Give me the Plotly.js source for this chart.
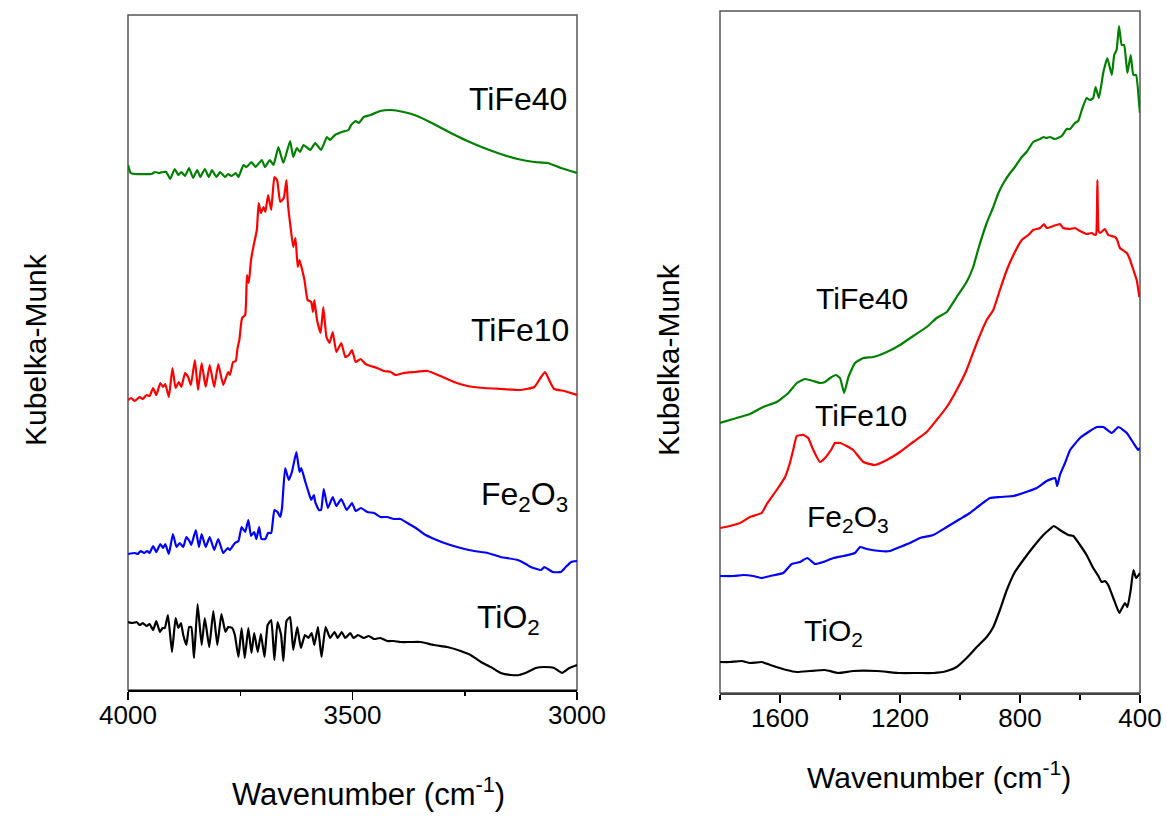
<!DOCTYPE html>
<html><head><meta charset="utf-8">
<script src="https://cdn.plot.ly/plotly-3.0.1.min.js"></script>
<style>html,body{margin:0;padding:0;background:#fff}</style>
</head><body><div id="chart" style="width:1167px;height:816px"></div>
<script>
// ---------- Left panel (4000-3000 cm-1) ----------
const L_TiFe40_wn = [4000,3994,3985,3948,3940,3931,3922,3915,3906,3896,3888,3881,3873,3864,3855,3846,3839,3829,3820,3813,3803,3795,3784,3777,3769,3760,3754,3743,3736,3725,3716,3702,3695,3684,3676,3665,3654,3639,3632,3624,3617,3609,3594,3583,3570,3557,3550,3539,3524,3509,3503,3493,3486,3475,3460,3438,3415,3386,3356,3319,3281,3244,3207,3170,3132,3095,3065,3036,3000];
const L_TiFe40 = [525,517,516,516,518,517,518,518,511,521,515,518,514,522,512,520,513,521,513,520,513,518,513,516,514,517,513,525,523,528,523,530,523,530,525,543,527,549,533,542,538,545,540,547,540,553,550,555,558,560,565,569,567,573,575,579,580,578,574,566,557,549,542,536,531,528,527,522,517];

const L_TiFe10_wn = [4000,3993,3985,3974,3967,3959,3952,3944,3937,3928,3922,3917,3909,3901,3894,3887,3881,3873,3866,3860,3851,3844,3836,3827,3818,3808,3799,3788,3777,3773,3766,3760,3756,3752,3746,3739,3735,3731,3726,3720,3713,3709,3704,3698,3694,3688,3681,3674,3668,3661,3653,3647,3644,3638,3632,3627,3622,3618,3612,3607,3600,3592,3588,3585,3579,3571,3565,3558,3551,3544,3536,3525,3516,3508,3501,3493,3482,3471,3460,3445,3430,3415,3404,3386,3363,3333,3304,3274,3244,3207,3170,3125,3095,3080,3071,3062,3051,3028,3000];
const L_TiFe10 = [290,292,289,293,291,295,294,302,295,307,303,306,293,322,302,308,303,317,313,305,330,300,327,303,325,303,326,305,318,315,328,329,342,350,372,375,415,407,430,445,460,487,477,483,478,495,480,513,510,488,492,510,487,463,443,452,423,430,420,410,390,388,378,390,370,357,383,353,347,358,338,347,333,335,340,328,331,326,324,322,319,318,315,317,318,319,314,308,304,302,301,300,303,313,318,310,301,299,295];

const L_Fe2O3_wn = [4000,3985,3978,3972,3964,3957,3952,3944,3937,3928,3922,3917,3909,3900,3892,3885,3877,3870,3862,3859,3849,3842,3836,3827,3818,3808,3799,3788,3778,3773,3762,3754,3747,3739,3732,3726,3719,3714,3708,3703,3694,3688,3681,3674,3667,3661,3657,3650,3642,3635,3625,3618,3614,3605,3598,3592,3586,3583,3575,3570,3564,3555,3544,3536,3525,3513,3501,3493,3481,3467,3452,3438,3423,3408,3393,3378,3359,3341,3318,3289,3259,3229,3199,3170,3132,3114,3103,3080,3073,3065,3054,3036,3025,3013,3000];
const L_Fe2O3 = [136,137,136,139,137,139,137,144,138,146,142,146,136,156,143,147,143,153,148,145,160,143,156,143,153,140,151,137,142,140,147,149,163,158,170,154,158,151,163,151,151,157,157,180,178,173,182,222,210,218,238,218,222,208,198,190,195,188,180,180,201,182,193,184,191,180,187,179,182,178,177,173,173,171,171,167,162,156,151,146,142,139,137,133,130,126,123,120,123,121,118,118,123,128,129];

const L_TiO2_wn = [4000,3989,3981,3974,3967,3959,3952,3944,3937,3929,3923,3918,3911,3902,3894,3888,3882,3877,3870,3864,3859,3853,3845,3836,3829,3819,3810,3801,3792,3783,3777,3768,3762,3754,3747,3740,3732,3725,3719,3711,3704,3696,3689,3681,3674,3667,3659,3654,3647,3639,3632,3623,3615,3606,3598,3591,3585,3577,3569,3560,3550,3540,3533,3524,3516,3505,3498,3488,3475,3464,3452,3438,3423,3408,3393,3371,3348,3319,3289,3259,3237,3214,3192,3170,3147,3129,3110,3092,3073,3051,3033,3017,3000];
const L_TiO2 = [68,67,68,65,67,64,66,60,69,58,62,62,75,38,72,62,67,55,45,63,63,32,86,45,72,43,79,45,76,58,63,62,55,33,62,32,62,37,57,38,56,33,65,70,30,68,55,29,69,73,40,63,42,55,52,57,45,63,33,63,52,58,52,58,52,57,52,55,52,54,51,52,49,49,48,48,48,45,43,39,35,28,23,17,15,15,18,22,23,22,17,22,25];

// ---------- Right panel (1800-400 cm-1) ----------
const R_TiFe40_wn = [1800,1756,1700,1656,1611,1572,1544,1517,1489,1467,1450,1433,1413,1400,1386,1372,1350,1322,1289,1244,1200,1156,1111,1078,1044,1011,978,956,939,911,889,872,853,833,817,794,778,756,733,722,711,700,683,661,644,633,617,606,594,578,567,556,548,537,522,509,494,486,478,470,461,453,442,431,422,413,402,400];
const R_TiFe40 = [270,274,279,286,291,300,310,314,312,310,311,315,318,315,300,316,330,335,336,341,348,357,366,375,381,396,411,426,444,470,486,500,511,520,526,536,541,551,554,556,555,556,554,557,564,564,570,572,583,595,593,595,606,595,621,635,618,638,643,667,648,648,620,638,618,618,586,580];

const R_TiFe10_wn = [1800,1767,1733,1700,1661,1644,1611,1583,1567,1556,1544,1522,1506,1489,1467,1450,1428,1417,1400,1378,1356,1322,1283,1244,1200,1156,1111,1078,1044,1011,978,944,911,889,867,844,817,794,772,756,733,720,711,689,667,656,633,617,600,578,561,550,546,542,538,533,517,506,483,476,467,444,433,422,411,402];
const R_TiFe10 = [165,167,170,176,180,189,203,216,230,243,257,258,255,243,231,235,244,250,250,247,243,231,228,233,241,251,261,273,286,303,323,350,373,383,403,423,441,453,458,463,465,469,465,467,469,465,464,465,462,459,460,458,459,513,462,460,464,458,456,453,445,440,433,423,413,396];

const R_Fe2O3_wn = [1800,1756,1722,1689,1661,1633,1589,1561,1533,1509,1483,1456,1422,1389,1350,1333,1311,1267,1233,1200,1167,1133,1089,1044,1000,967,933,900,867,822,789,744,711,683,676,667,650,633,600,572,544,522,494,472,444,422,406,400];
const R_Fe2O3 = [117,117,118,117,115,117,120,129,131,135,129,131,135,137,140,146,144,142,142,146,150,155,158,166,174,180,188,195,196,197,200,205,212,215,207,218,230,243,255,261,266,266,260,266,260,250,243,245];

const R_TiO2_wn = [1800,1767,1728,1700,1661,1622,1578,1544,1500,1450,1406,1356,1278,1200,1144,1089,1044,1011,978,944,911,889,867,844,817,789,756,722,700,687,667,639,622,600,578,556,539,528,517,506,489,469,458,450,442,431,422,413,400];
const R_TiO2 = [31,31,32,30,31,27,23,21,22,23,20,22,22,20,20,20,22,26,35,46,56,66,83,103,121,133,146,158,164,167,163,158,157,148,138,125,117,111,112,108,95,80,86,90,86,103,123,115,120];

const seriesNames = ['TiFe40','TiFe10','Fe2O3','TiO2'];
const seriesColors = ['#008000','#ff0000','#0000ff','#000000'];
const leftX = [L_TiFe40_wn, L_TiFe10_wn, L_Fe2O3_wn, L_TiO2_wn];
const leftY = [L_TiFe40, L_TiFe10, L_Fe2O3, L_TiO2];
const rightX = [R_TiFe40_wn, R_TiFe10_wn, R_Fe2O3_wn, R_TiO2_wn];
const rightY = [R_TiFe40, R_TiFe10, R_Fe2O3, R_TiO2];

const W = 1167, H = 816;
const px = x => x / W, py = y => 1 - y / H;

const traces = [];
seriesNames.forEach((n, i) => {
  traces.push({x: leftX[i], y: leftY[i], name: n, type: 'scatter', mode: 'lines',
    line: {color: seriesColors[i], width: 2.2, shape: 'spline', smoothing: 0.4}, xaxis: 'x', yaxis: 'y', showlegend: false});
  traces.push({x: rightX[i], y: rightY[i], name: n, type: 'scatter', mode: 'lines',
    line: {color: seriesColors[i], width: 2.2, shape: 'spline', smoothing: 0.4}, xaxis: 'x2', yaxis: 'y2', showlegend: false});
});

const FONT = 'Liberation Sans, Arial, sans-serif';

function ann(text, x, y, size, extra) {
  return Object.assign({text: text, xref: 'paper', yref: 'paper', x: px(x), y: py(y),
    xanchor: 'center', yanchor: 'middle', showarrow: false,
    font: {family: FONT, size: size, color: '#000'}}, extra || {});
}

const annotations = [
  ann('TiFe40', 518, 99, 32),
  ann('TiFe10', 520, 330, 32),
  ann('Fe<sub>2</sub>O<sub>3</sub>', 524, 497, 32),
  ann('TiO<sub>2</sub>', 508, 619, 32),
  ann('TiFe40', 862, 298, 30),
  ann('TiFe10', 861, 415, 30),
  ann('Fe<sub>2</sub>O<sub>3</sub>', 848, 518, 30),
  ann('TiO<sub>2</sub>', 833, 632, 30),
  ann('Kubelka-Munk', 35, 350, 30, {textangle: -90}),
  ann('Kubelka-Munk', 668, 360, 30, {textangle: -90}),
  ann('Wavenumber (cm<sup>-1</sup>)', 368, 792, 31),
  ann('Wavenumber (cm<sup>-1</sup>)', 939, 775, 30)
];

const boxLine = {color: '#555', width: 1.5};
const shapes = [
  {type: 'rect', xref: 'x domain', yref: 'y domain', x0: 0, x1: 1, y0: 0, y1: 1, line: boxLine, layer: 'below'},
  {type: 'rect', xref: 'x2 domain', yref: 'y2 domain', x0: 0, x1: 1, y0: 0, y1: 1, line: boxLine, layer: 'below'}
];

const xCommon = {ticks: 'outside', ticklen: 8, tickwidth: 1.5, tickcolor: '#000',
  showline: true, linecolor: '#000', linewidth: 2, showgrid: false, zeroline: false,
  ticklabelstandoff: -7,
  tickfont: {family: FONT, size: 26, color: '#000'}};
const yCommon = {showticklabels: false, ticks: '', showgrid: false, zeroline: false, showline: false};

const layout = {
  width: W, height: H, margin: {l: 0, r: 0, t: 0, b: 0},
  paper_bgcolor: '#fff', plot_bgcolor: '#fff',
  font: {family: FONT, color: '#000'},
  xaxis: Object.assign({}, xCommon, {domain: [px(128), px(577)], range: [4000, 3000],
    tick0: 0, dtick: 500, anchor: 'y',
    minor: {dtick: 250, ticks: 'outside', ticklen: 4, tickwidth: 1.5, tickcolor: '#000'}}),
  yaxis: Object.assign({}, yCommon, {domain: [py(690), py(15)], range: [0, 675], anchor: 'x'}),
  xaxis2: Object.assign({}, xCommon, {domain: [px(720), px(1140)], range: [1800, 400],
    tick0: 0, dtick: 400, anchor: 'y2', linecolor: '#444',
    minor: {dtick: 200, ticks: 'outside', ticklen: 5, tickwidth: 1.5, tickcolor: '#000'}}),
  yaxis2: Object.assign({}, yCommon, {domain: [py(693), py(11)], range: [0, 682], anchor: 'x2'}),
  annotations: annotations,
  shapes: shapes
};

Plotly.newPlot('chart', traces, layout, {displayModeBar: false, staticPlot: true});
</script></body></html>
